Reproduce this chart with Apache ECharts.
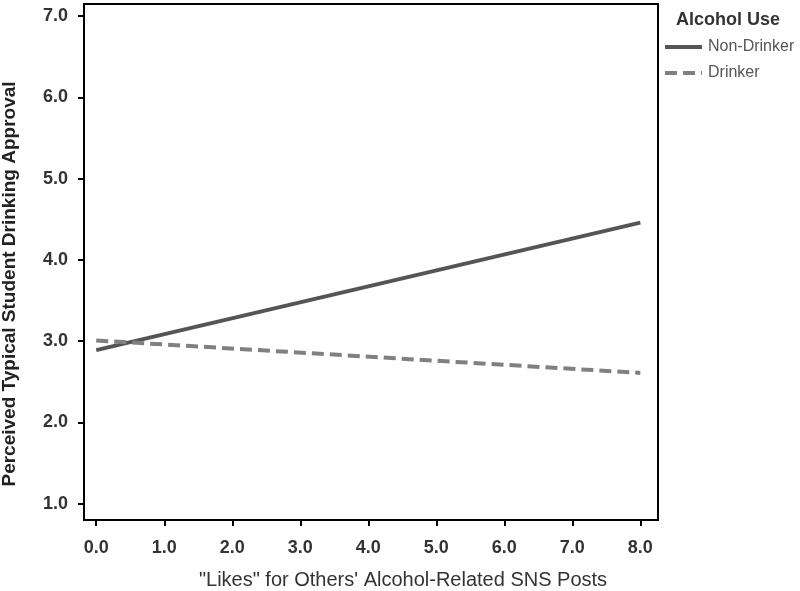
<!DOCTYPE html>
<html><head><meta charset="utf-8">
<script src="https://cdn.jsdelivr.net/npm/echarts@6/dist/echarts.min.js"></script>
<style>html,body{margin:0;padding:0;background:#fff}#c{width:800px;height:591px}</style>
</head><body><div id="c"></div>
<script>
const xValues = [0, 8];
const nonDrinker = [2.89, 4.46];
const drinker = [3.01, 2.61];
const xTicks = [0, 1, 2, 3, 4, 5, 6, 7, 8];
const yTicks = [1, 2, 3, 4, 5, 6, 7];
const seriesNames = ['Non-Drinker', 'Drinker'];
const legendTitle = 'Alcohol Use';
const xTitle = '"Likes" for Others\' Alcohol-Related SNS Posts';
const yTitle = 'Perceived Typical Student Drinking Approval';

const font = 'Liberation Sans, Arial, sans-serif';
const chart = echarts.init(document.getElementById('c'));
chart.setOption({
  animation: false,
  backgroundColor: '#fff',
  title: {text: legendTitle, left: 671, top: 6,
    textStyle: {fontFamily: font, fontSize: 18, fontWeight: 'bold', color: '#333'}},
  legend: {orient: 'vertical', left: 663, top: 39, padding: 0, itemWidth: 37, itemHeight: 14, itemGap: 10,
    data: seriesNames,
    itemStyle: {opacity: 0},
    lineStyle: {width: 4},
    textStyle: {fontFamily: font, fontSize: 16, color: '#555', padding: [0, 0, 0, 1]}},
  grid: {left: 84, top: 4, right: 142, bottom: 71, show: true, borderColor: '#000', borderWidth: 2},
  graphic: [
    {type: 'text', style: {text: xTitle, x: 403, y: 580, align: 'center', verticalAlign: 'middle',
      font: '20px ' + font, fill: '#333'}},
    {type: 'text', x: 10, y: 284, rotation: Math.PI / 2,
      style: {text: yTitle, align: 'center', verticalAlign: 'middle', font: 'bold 19px ' + font, fill: '#222'}}
  ],
  xAxis: {type: 'value', min: -0.18, max: 8.26,
    axisLine: {show: true, onZero: false, lineStyle: {color: '#000', width: 2}},
    axisTick: {show: true, customValues: xTicks, length: 6, lineStyle: {color: '#000', width: 2}},
    axisLabel: {customValues: xTicks, formatter: v => v.toFixed(1), fontFamily: font, fontSize: 18, fontWeight: 'bold', color: '#333', margin: 19},
    splitLine: {show: false}},
  yAxis: {type: 'value', min: 0.8, max: 7.15,
    axisLine: {show: true, onZero: false, lineStyle: {color: '#000', width: 2}},
    axisTick: {show: true, customValues: yTicks, length: 6, lineStyle: {color: '#000', width: 2}},
    axisLabel: {customValues: yTicks, formatter: v => v.toFixed(1), fontFamily: font, fontSize: 18, fontWeight: 'bold', color: '#333', margin: 16},
    splitLine: {show: false}},
  series: [
    {name: seriesNames[0], type: 'line', symbol: 'none', data: xValues.map((x, i) => [x, nonDrinker[i]]),
      lineStyle: {color: '#555', width: 4}, itemStyle: {color: '#555'}},
    {name: seriesNames[1], type: 'line', symbol: 'none', data: xValues.map((x, i) => [x, drinker[i]]),
      lineStyle: {color: '#808080', width: 4, type: [12, 6]}, itemStyle: {color: '#808080'}}
  ]
});
</script></body></html>
